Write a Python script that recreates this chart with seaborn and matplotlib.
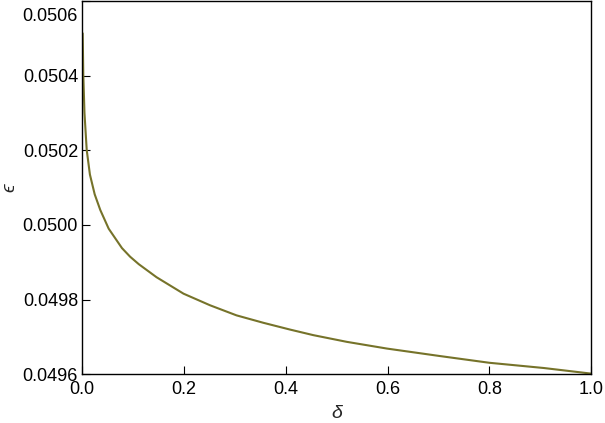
import pandas as pd
import seaborn as sns
import matplotlib.pyplot as plt
from matplotlib.transforms import ScaledTranslation

# values
delta = [0.0008, 0.002, 0.0043, 0.0087, 0.015, 0.0244, 0.0354, 0.0519, 0.078,
         0.094, 0.111, 0.146, 0.199, 0.251, 0.303, 0.356, 0.408, 0.454, 0.520,
         0.599, 0.703, 0.8, 0.907, 1.0]
eps = [0.050513, 0.050402, 0.050300, 0.050201, 0.050135, 0.050082, 0.050040,
       0.049990, 0.049938, 0.049915, 0.049895, 0.049860, 0.049816, 0.049785,
       0.049758, 0.049738, 0.049720, 0.049705, 0.049687, 0.049669, 0.049649,
       0.049631, 0.049617, 0.049602]
xticks = [0.0, 0.2, 0.4, 0.6, 0.8, 1.0]
yticks = [0.0496, 0.0498, 0.0500, 0.0502, 0.0504, 0.0506]

df = pd.DataFrame({'delta': delta, 'eps': eps})

sns.set_style('ticks')
plt.rcParams['font.family'] = ['Liberation Sans', 'DejaVu Sans']

fig = plt.figure(figsize=(6.05, 4.23), dpi=100)
ax = fig.add_axes([0.136, 0.115, 0.841, 0.883])

sns.lineplot(data=df, x='delta', y='eps', color='#76732a', linewidth=1.5, ax=ax)

ax.set_xlim(0, 1)
ax.set_ylim(0.0496, 0.0506)
ax.set_xticks(xticks)
ax.set_xticklabels([f'{t:.1f}' for t in xticks])
ax.set_yticks(yticks)
ax.set_yticklabels([f'{t:.4f}' for t in yticks])
ax.tick_params(direction='in', length=6, width=0.8, labelsize=13, colors='black')
ax.tick_params(axis='x', pad=5)
ax.tick_params(axis='y', pad=3)
for s in ax.spines.values():
    s.set_linewidth(1.0)
    s.set_color('black')

# top y label sits just below the frame edge, as in the reference
top_lbl = ax.get_yticklabels()[-1]
top_lbl.set_transform(top_lbl.get_transform() + ScaledTranslation(0, -10 / 72, fig.dpi_scale_trans))

ax.set_xlabel('δ', fontsize=14, style='italic', labelpad=5)
ax.set_ylabel('ϵ', fontsize=14, style='italic', va='center')
ax.yaxis.set_label_coords(-0.142, 0.5)

fig.savefig('out.png', dpi=100)
